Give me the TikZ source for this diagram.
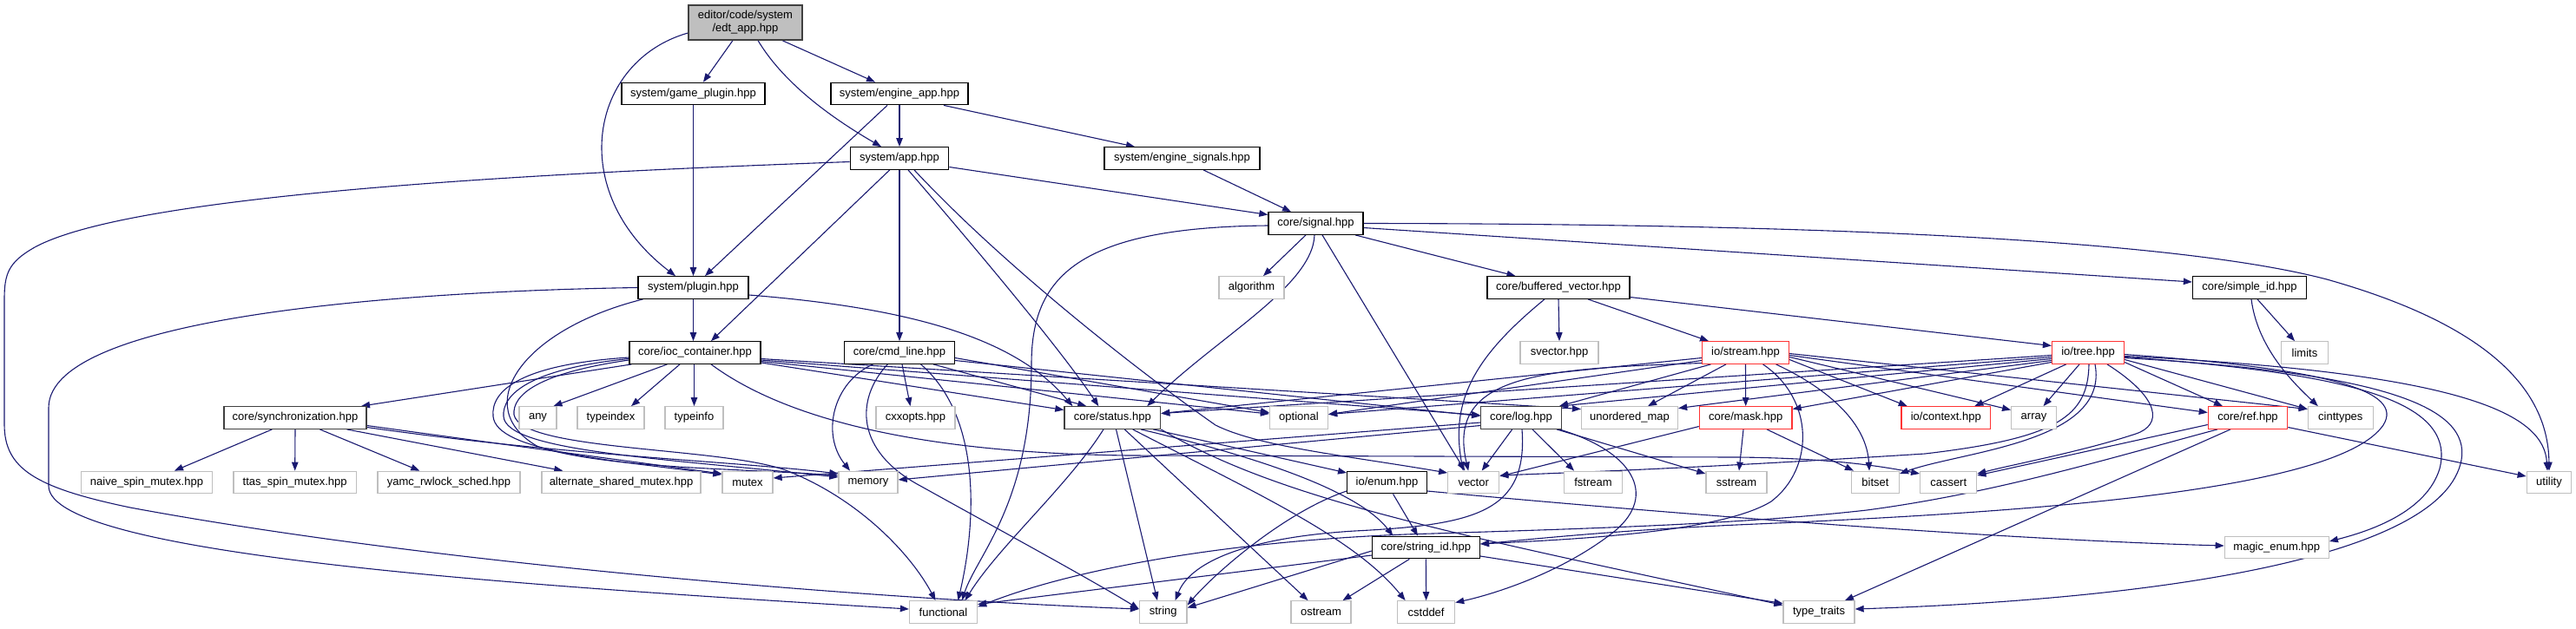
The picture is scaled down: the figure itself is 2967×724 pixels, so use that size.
\documentclass[tikz,border=0pt]{standalone}
\usepackage{fontspec}
\setmainfont{Liberation Sans}
\usetikzlibrary{arrows.meta,backgrounds}
\definecolor{edgec}{HTML}{191970}
\definecolor{extc}{HTML}{BFBFBF}
\definecolor{redc}{HTML}{FF3333}
\definecolor{darkc}{HTML}{404040}
\definecolor{edtfill}{HTML}{BFBFBF}
\tikzset{
 boxn/.style={draw=black, line width=1.3pt, fill=white, minimum height=25.5pt, inner sep=0pt, font=\fontsize{13pt}{15pt}\selectfont},
 boxx/.style={boxn, draw=extc},
 boxr/.style={boxn, draw=redc},
 boxd/.style={boxn, draw=darkc},
 edg/.style={draw=edgec, line width=1.1pt, -{Triangle[length=10pt,width=7.5pt]}}
}
\begin{document}
\begin{tikzpicture}[x=1pt,y=-1pt]
\useasboundingbox (0,0) rectangle (2967,724);
% nodes
\node[boxd, fill=edtfill, minimum width=131pt, minimum height=40pt, align=center] (edt) at (858.5,26) {editor/code/system\\/edt\_app.hpp};
\node[boxn, minimum width=165pt] (gameplugin) at (798.5,108) {system/game\_plugin.hpp};
\node[boxn, minimum width=158pt] (engineapp) at (1036,108) {system/engine\_app.hpp};
\node[boxn, minimum width=113.5pt] (app) at (1036,182.5) {system/app.hpp};
\node[boxn, minimum width=179pt] (enginesignals) at (1361.5,182.5) {system/engine\_signals.hpp};
\node[boxn, minimum width=109pt] (signal) at (1515.5,257.5) {core/signal.hpp};
\node[boxn, minimum width=127pt] (plugin) at (798.5,331.5) {system/plugin.hpp};
\node[boxx, minimum width=75pt] (algorithm) at (1441.5,331.5) {algorithm};
\node[boxn, minimum width=164pt] (bufvec) at (1795,331.5) {core/buffered\_vector.hpp};
\node[boxn, minimum width=131pt] (simpleid) at (2591,331.5) {core/simple\_id.hpp};
\node[boxn, minimum width=151pt] (ioc) at (800.5,406.5) {core/ioc\_container.hpp};
\node[boxn, minimum width=127pt] (cmdline) at (1036,406.5) {core/cmd\_line.hpp};
\node[boxx, minimum width=90pt] (svector) at (1796,406.5) {svector.hpp};
\node[boxr, minimum width=100pt] (stream) at (2010.5,406.5) {io/stream.hpp};
\node[boxr, minimum width=83pt] (tree) at (2405,406.5) {io/tree.hpp};
\node[boxx, minimum width=54pt] (limits) at (2654.5,406.5) {limits};
\node[boxd, minimum width=164pt] (sync) at (340,481.5) {core/synchronization.hpp};
\node[boxx, minimum width=43pt] (any) at (619.5,481.5) {any};
\node[boxx, minimum width=77pt] (typeindex) at (703.5,481.5) {typeindex};
\node[boxx, minimum width=67pt] (typeinfo) at (799.5,481.5) {typeinfo};
\node[boxx, minimum width=91pt] (cxxopts) at (1054.5,481.5) {cxxopts.hpp};
\node[boxd, minimum width=110.7pt] (status) at (1281.3,481.5) {core/status.hpp};
\node[boxx, minimum width=67pt] (optional) at (1496,481.5) {optional};
\node[boxd, minimum width=92.7pt] (log) at (1752,481.5) {core/log.hpp};
\node[boxx, minimum width=111pt] (um) at (1877,481.5) {unordered\_map};
\node[boxr, minimum width=106.7pt] (mask) at (2010.7,481.5) {core/mask.hpp};
\node[boxr, minimum width=102.7pt] (context) at (2241.3,481.5) {io/context.hpp};
\node[boxx, minimum width=51.6pt] (array) at (2342.5,481.5) {array};
\node[boxr, minimum width=91.3pt] (ref) at (2589,481.5) {core/ref.hpp};
\node[boxx, minimum width=75pt] (cinttypes) at (2695.8,481.5) {cinttypes};
\node[boxx, minimum width=151pt] (naive) at (169,556) {naive\_spin\_mutex.hpp};
\node[boxx, minimum width=141.4pt] (ttas) at (339.7,556) {ttas\_spin\_mutex.hpp};
\node[boxx, minimum width=164pt] (yamc) at (517,556) {yamc\_rwlock\_sched.hpp};
\node[boxx, minimum width=183pt] (altshared) at (715.5,556) {alternate\_shared\_mutex.hpp};
\node[boxx, minimum width=58pt] (mutex) at (861,556) {mutex};
\node[boxx, minimum width=68pt] (memory) at (1000,556) {memory};
\node[boxn, minimum width=91.6pt] (ioenum) at (1597.5,556) {io/enum.hpp};
\node[boxx, minimum width=59pt] (vector) at (1697.2,556) {vector};
\node[boxx, minimum width=66.7pt] (fstream) at (1835,556) {fstream};
\node[boxx, minimum width=70pt] (sstream) at (2000,556) {sstream};
\node[boxx, minimum width=54.7pt] (bitset) at (2160,556) {bitset};
\node[boxx, minimum width=65pt] (cassert) at (2244.2,556) {cassert};
\node[boxx, minimum width=51.5pt] (utility) at (2936,556) {utility};
\node[boxn, minimum width=124pt] (stringid) at (1642.4,631) {core/string\_id.hpp};
\node[boxx, minimum width=120pt] (magicenum) at (2622.3,631) {magic\_enum.hpp};
\node[boxx, minimum width=78pt] (functional) at (1086.5,705.5) {functional};
\node[boxx, minimum width=54.5pt] (string) at (1339.7,705.5) {string};
\node[boxx, minimum width=69pt] (ostream) at (1521.5,705.5) {ostream};
\node[boxx, minimum width=66pt] (cstddef) at (1642.6,705.5) {cstddef};
\node[boxx, minimum width=82pt] (typetraits) at (2095,705.5) {type\_traits};
\begin{scope}[on background layer]
% edt
\draw[edg] ([yshift=-12pt]edt.west) .. controls (680,70) and (650,220) .. ([xshift=-20.5pt]plugin.north);
\draw[edg] ([xshift=-14.5pt]edt.south) -- ([xshift=11.5pt]gameplugin.north);
\draw[edg] ([xshift=14.5pt]edt.south) .. controls (905,100) and (965,140) .. ([xshift=-21pt]app.north);
\draw[edg] ([xshift=42.5pt]edt.south) -- ([xshift=-28pt]engineapp.north);
\draw[edg] (gameplugin.south) -- (plugin.north);
% engine app
\draw[edg] ([xshift=-14pt]engineapp.south) -- ([xshift=13.5pt]plugin.north);
\draw[edg] (engineapp.south) -- (app.north);
\draw[edg] ([xshift=51pt]engineapp.south) -- ([xshift=-54.5pt]enginesignals.north);
\draw[edg] ([xshift=24.5pt]enginesignals.south) -- ([xshift=-28.5pt]signal.north);
% app
\draw[edg] ([yshift=-10pt]app.east) -- ([yshift=10pt]signal.west);
\draw[edg] ([yshift=-4pt]app.west) .. controls (600,200) and (150,225) .. (40,285) .. controls (10,302) and (5,315) .. (5,345) -- (5,489) .. controls (5,540) and (40,562) .. (150,585) .. controls (500,650) and (1000,690) .. ([yshift=3.5pt]string.west);
\draw[edg] ([xshift=-11.3pt]app.south) -- ([xshift=18.5pt]ioc.north);
\draw[edg] (app.south) -- (cmdline.north);
\draw[edg] ([xshift=10pt]app.south) .. controls (1110,270) and (1220,400) .. ([xshift=-16pt]status.north);
\draw[edg] ([xshift=17pt]app.south) .. controls (1150,300) and (1300,420) .. (1400,490) .. controls (1450,515) and (1550,525) .. ([yshift=11pt]vector.west);
% signal
\draw[edg] ([xshift=-11.5pt]signal.south) -- ([xshift=13.5pt]algorithm.north);
\draw[edg] ([xshift=-1.5pt]signal.south) .. controls (1512,330) and (1400,390) .. ([xshift=40pt]status.north);
\draw[edg] ([yshift=-2.5pt]signal.west) .. controls (1240,262) and (1188,320) .. (1188,420) .. controls (1188,580) and (1125,640) .. ([xshift=21.5pt]functional.north);
\draw[edg] ([xshift=7.5pt]signal.south) -- ([xshift=-10pt]vector.north);
\draw[edg] ([xshift=45.5pt]signal.south) -- ([xshift=-49.5pt]bufvec.north);
\draw[edg] ([yshift=-5pt]signal.east) -- ([yshift=6.5pt]simpleid.west);
\draw[edg] (signal.east) .. controls (2150,258) and (2520,280) .. (2680,322) .. controls (2850,370) and (2935,440) .. (utility.north);
% plugin
\draw[edg] (plugin.south) -- ([xshift=-2pt]ioc.north);
\draw[edg] ([yshift=-8.5pt]plugin.east) .. controls (1050,355) and (1170,390) .. ([xshift=-46pt]status.north);
\draw[edg] ([xshift=-58pt]plugin.south) .. controls (600,380) and (540,470) .. (620,515) .. controls (700,540) and (850,540) .. ([yshift=8pt]memory.west);
\draw[edg] (plugin.west) .. controls (500,335) and (56,360) .. (56,470) -- (56,560) .. controls (56,640) and (600,675) .. ([yshift=3.5pt]functional.west);
% ioc
\draw[edg] ([xshift=3pt]ioc.south west) -- ([xshift=76pt]sync.north);
\draw[edg] ([xshift=-32pt]ioc.south) -- ([xshift=18pt]any.north);
\draw[edg] ([xshift=-17.5pt]ioc.south) -- ([xshift=23.5pt]typeindex.north);
\draw[edg] ([xshift=-1pt]ioc.south) -- (typeinfo.north);
\draw[edg] ([yshift=-11.5pt]ioc.east) -- ([yshift=9pt]status.west);
\draw[edg] ([yshift=-10pt]ioc.east) -- ([yshift=4.5pt]optional.west);
\draw[edg] ([yshift=-7pt]ioc.east) -- ([yshift=10pt]um.west);
\draw[edg] ([yshift=-8.5pt]ioc.east) -- ([yshift=3pt]log.west);
\draw[edg] ([xshift=18.5pt]ioc.south) .. controls (900,480) and (1050,522) .. (1300,525) -- (2000,527) .. controls (2120,528) and (2180,540) .. ([yshift=10pt]cassert.west);
\draw[edg] ([yshift=-5.5pt]ioc.west) .. controls (600,420) and (565,450) .. (568,480) .. controls (572,520) and (700,530) .. ([yshift=9pt]mutex.west);
\draw[edg] ([yshift=-7pt]ioc.west) .. controls (610,425) and (578,455) .. (580,480) .. controls (583,520) and (760,528) .. ([yshift=6pt]memory.west);
\draw[edg] ([yshift=-8.5pt]ioc.west) .. controls (620,430) and (590,455) .. (592,478) .. controls (600,520) and (830,515) .. (905,542) .. controls (990,575) and (1050,640) .. ([xshift=-9pt]functional.north);
% sync
\draw[edg] ([xshift=-26.6pt]sync.south) -- ([xshift=32pt]naive.north);
\draw[edg] (sync.south) -- (ttas.north);
\draw[edg] ([xshift=28.4pt]sync.south) -- ([xshift=-33.7pt]yamc.north);
\draw[edg] ([xshift=59.5pt]sync.south) -- ([xshift=-67.2pt]altshared.north);
\draw[edg] ([yshift=-9pt]sync.east) .. controls (600,515) and (750,535) .. ([yshift=10pt]mutex.west);
\draw[edg] ([yshift=-11pt]sync.east) .. controls (650,525) and (850,532) .. ([yshift=10pt]memory.west);
% cmdline
\draw[edg] ([xshift=-30.5pt]cmdline.south) .. controls (960,440) and (945,500) .. ([xshift=-21pt]memory.north);
\draw[edg] ([xshift=-13.7pt]cmdline.south) .. controls (985,460) and (985,520) .. (1060,560) .. controls (1150,610) and (1260,670) .. ([yshift=3.5pt]string.west);
\draw[edg] ([xshift=24.6pt]cmdline.south) .. controls (1130,480) and (1125,600) .. ([xshift=17pt]functional.north);
\draw[edg] ([xshift=3pt]cmdline.south) -- ([xshift=-6pt]cxxopts.north);
\draw[edg] ([xshift=39pt]cmdline.south) -- ([xshift=-30pt]status.north);
\draw[edg] ([yshift=-6pt]cmdline.east) -- ([yshift=6pt]optional.west);
\draw[edg] ([yshift=-9pt]cmdline.east) -- ([yshift=2pt]log.west);
% status
\draw[edg] ([xshift=-10.3pt]status.south) .. controls (1230,560) and (1150,630) .. ([xshift=25pt]functional.north);
\draw[edg] ([xshift=4.2pt]status.south) -- ([xshift=-6.7pt]string.north);
\draw[edg] ([xshift=14pt]status.south) -- ([xshift=-15pt]ostream.north);
\draw[edg] ([xshift=23.3pt]status.south) .. controls (1450,570) and (1560,620) .. ([xshift=-24pt]cstddef.north);
\draw[edg] ([xshift=32.7pt]status.south) .. controls (1420,520) and (1560,560) .. ([xshift=-38pt]stringid.north);
\draw[edg] ([xshift=47pt]status.south) -- ([yshift=11pt]ioenum.west);
\draw[edg] (status.south east) .. controls (1480,580) and (1700,620) .. ([yshift=8pt]typetraits.west);
% log
\draw[edg] ([yshift=-5.5pt]log.west) -- ([yshift=5pt]mutex.east);
\draw[edg] ([yshift=-9pt]log.west) -- ([yshift=3pt]memory.east);
\draw[edg] ([xshift=-10.3pt]log.south) -- ([xshift=9.5pt]vector.north);
\draw[edg] ([xshift=13pt]log.south) -- ([xshift=-22pt]fstream.north);
\draw[edg] ([xshift=41pt]log.south) -- ([yshift=10pt]sstream.west);
\draw[edg] ([xshift=44pt]log.south) .. controls (1880,520) and (1910,570) .. (1860,612) .. controls (1800,660) and (1720,685) .. ([yshift=11pt]cstddef.east);
\draw[edg] ([xshift=1pt]log.south) .. controls (1760,590) and (1700,605) .. (1560,612) .. controls (1430,620) and (1370,650) .. ([xshift=14pt]string.north);
% io/enum
\draw[edg] ([xshift=7pt]ioenum.south) -- ([xshift=-9.4pt]stringid.north);
\draw[edg] ([yshift=-10pt]ioenum.west) .. controls (1480,590) and (1400,660) .. ([yshift=8pt]string.east);
\draw[edg] ([yshift=-10pt]ioenum.east) .. controls (1900,590) and (2300,622) .. ([yshift=2pt]magicenum.west);
% string_id
\draw[edg] ([yshift=-9pt]stringid.west) -- ([yshift=9pt]functional.east);
\draw[edg] ([yshift=-4pt]stringid.west) -- ([yshift=5pt]string.east);
\draw[edg] ([xshift=-19pt]stringid.south) -- ([xshift=25pt]ostream.north);
\draw[edg] (stringid.south) -- (cstddef.north);
\draw[edg] ([yshift=-10pt]stringid.east) -- ([yshift=10pt]typetraits.west);
% buffered vector
\draw[edg] ([xshift=-16pt]bufvec.south) .. controls (1700,410) and (1670,460) .. ([xshift=-12pt]vector.north);
\draw[edg] (bufvec.south) -- (svector.north);
\draw[edg] ([xshift=34pt]bufvec.south) -- ([xshift=-42.5pt]stream.north);
\draw[edg] ([yshift=-11pt]bufvec.east) -- ([yshift=8pt]tree.west);
% simple id
\draw[edg] ([xshift=9pt]simpleid.south) -- ([xshift=-11.5pt]limits.north);
\draw[edg] ([xshift=2pt]simpleid.south) .. controls (2600,400) and (2640,440) .. ([xshift=-26pt]cinttypes.north);
% stream
\draw[edg] ([yshift=-6pt]stream.west) -- ([yshift=5pt]status.east);
\draw[edg] ([yshift=-9pt]stream.west) -- ([yshift=4pt]optional.east);
\draw[edg] ([yshift=-12pt]stream.west) .. controls (1780,425) and (1665,430) .. ([xshift=-6pt]vector.north);
\draw[edg] ([xshift=-40pt]stream.south) -- ([xshift=44pt]log.north);
\draw[edg] ([xshift=-22.5pt]stream.south) -- ([xshift=21pt]um.north);
\draw[edg] (stream.south) -- (mask.north);
\draw[edg] ([xshift=20pt]stream.south) .. controls (2090,460) and (2090,540) .. (2040,578) .. controls (1980,615) and (1800,622) .. ([yshift=4pt]stringid.east);
\draw[edg] ([xshift=35pt]stream.south) .. controls (2110,450) and (2150,490) .. ([xshift=-7pt]bitset.north);
\draw[edg] ([yshift=-8pt]stream.east) -- ([xshift=-44.6pt]context.north);
\draw[edg] ([yshift=-5pt]stream.east) -- ([yshift=9pt]array.west);
\draw[edg] ([yshift=-3pt]stream.east) -- ([yshift=6pt]ref.west);
\draw[edg] ([yshift=-1pt]stream.east) -- ([yshift=10pt]cinttypes.west);
% mask
\draw[edg] ([xshift=-2.7pt]mask.south) -- ([xshift=3pt]sstream.north);
\draw[edg] ([xshift=24.3pt]mask.south) -- ([xshift=-25pt]bitset.north);
\draw[edg] ([yshift=-10pt]mask.west) -- ([yshift=7pt]vector.east);
% tree
\draw[edg] ([yshift=-3pt]tree.west) -- ([yshift=5pt]status.east);
\draw[edg] ([yshift=-5pt]tree.west) -- ([yshift=4pt]optional.east);
\draw[edg] ([yshift=-7pt]tree.west) -- ([xshift=44pt]log.north);
\draw[edg] ([yshift=-9pt]tree.west) -- ([yshift=11pt]um.east);
\draw[edg] ([yshift=-11pt]tree.west) -- ([yshift=10pt]mask.east);
\draw[edg] ([xshift=-25.3pt]tree.south) -- ([xshift=33pt]context.north);
\draw[edg] ([xshift=-10pt]tree.south) -- ([xshift=11pt]array.north);
\draw[edg] ([xshift=1pt]tree.south) .. controls (2405,480) and (2370,505) .. (2217,523) .. controls (1950,540) and (1800,545) .. ([yshift=8pt]vector.east);
\draw[edg] ([xshift=8pt]tree.south) .. controls (2430,510) and (2260,520) .. ([yshift=10pt]bitset.east);
\draw[edg] ([xshift=22pt]tree.south) .. controls (2490,460) and (2490,490) .. (2460,500) .. controls (2400,520) and (2320,535) .. ([yshift=10pt]cassert.east);
\draw[edg] ([yshift=-11pt]tree.east) -- ([xshift=-29pt]ref.north);
\draw[edg] ([yshift=-8pt]tree.east) -- ([yshift=10pt]cinttypes.west);
\draw[edg] ([yshift=-2pt]tree.east) .. controls (2680,425) and (2770,450) .. (2745,490) .. controls (2690,570) and (2300,592) .. (2000,605) .. controls (1850,612) and (1760,622) .. ([yshift=4pt]stringid.east);
\draw[edg] ([yshift=-4pt]tree.east) .. controls (2850,430) and (2930,480) .. ([xshift=-2pt]utility.north);
\draw[edg] ([yshift=-5pt]tree.east) .. controls (2700,430) and (2830,460) .. (2810,540) .. controls (2795,590) and (2730,612) .. ([yshift=7pt]magicenum.east);
\draw[edg] ([yshift=-6pt]tree.east) .. controls (2750,430) and (2845,470) .. (2835,530) .. controls (2815,640) and (2500,690) .. ([yshift=3.5pt]typetraits.east);
% ref
\draw[edg] ([yshift=-8pt]ref.west) -- ([yshift=8pt]cassert.east);
\draw[edg] ([xshift=-20pt]ref.south) -- ([xshift=30pt]typetraits.north);
\draw[edg] ([yshift=-11pt]ref.east) -- ([yshift=7pt]utility.west);
\draw[edg] ([xshift=-35pt]ref.south) .. controls (2430,528) and (2300,568) .. (2150,588) .. controls (2000,605) and (1800,610) .. (1650,615) .. controls (1450,620) and (1250,650) .. ([yshift=6pt]functional.east);
\end{scope}
\end{tikzpicture}
\end{document}
